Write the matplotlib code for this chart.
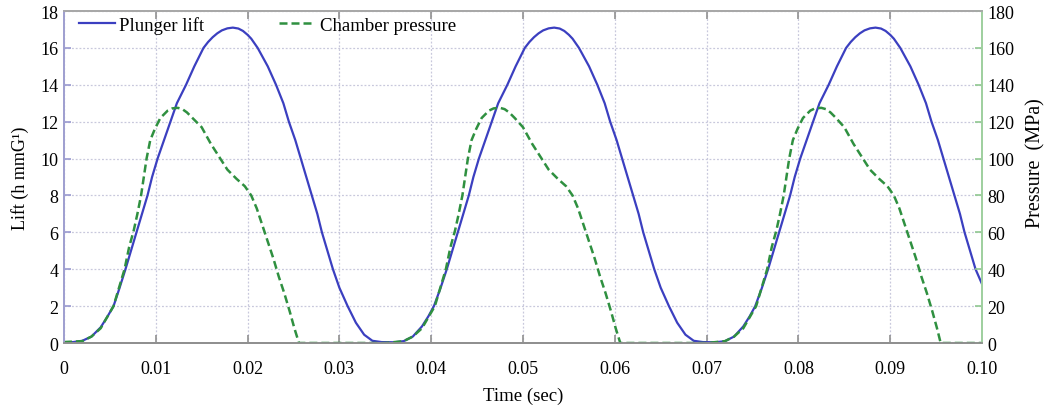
import matplotlib
matplotlib.use("Agg")
import matplotlib.pyplot as plt

plt.rcParams['font.family'] = ['Liberation Serif', 'DejaVu Serif']

# plunger lift (mm) against time (ms)
lift_t = [0.0, 1.0, 2.0, 3.0, 4.0, 4.7, 5.4, 6.0, 6.7, 7.3, 7.9, 8.5, 9.1, 9.6, 10.2,
          10.9, 11.6, 12.3, 13.3, 14.2, 15.2, 15.7, 16.2, 16.7, 17.2, 17.8, 18.4, 19.0,
          19.5, 20.0, 20.4, 21.1, 22.2, 23.1, 23.9, 24.5, 25.2, 25.8, 26.4, 27.0, 27.6,
          28.1, 28.7, 29.3, 30.0, 30.9, 31.8, 32.7, 33.6, 34.6, 36.0, 37.0,
          38.0, 39.0, 39.7, 40.3, 41.0, 41.7, 42.3, 42.9, 43.5, 44.1, 44.6, 45.2, 45.9,
          46.6, 47.3, 48.3, 49.2, 50.2, 50.7, 51.2, 51.7, 52.2, 52.8, 53.4, 54.0,
          54.5, 55.0, 55.4, 56.1, 57.2, 58.1, 58.9, 59.5, 60.2, 60.8, 61.4, 62.0, 62.6,
          63.1, 63.7, 64.3, 65.0, 65.9, 66.8, 67.7, 68.6, 69.6, 71.0, 72.0,
          73.0, 74.0, 74.7, 75.3, 76.0, 76.7, 77.3, 77.9, 78.5, 79.1, 79.6, 80.2, 80.9,
          81.6, 82.3, 83.3, 84.2, 85.2, 85.7, 86.2, 86.7, 87.2, 87.8, 88.4, 89.0,
          89.5, 90.0, 90.4, 91.1, 92.2, 93.1, 93.9, 94.5, 95.2, 95.8, 96.4, 97.0, 97.6,
          98.1, 98.7, 99.3, 100.0]
lift = [0.05, 0.05, 0.12, 0.35, 0.85, 1.4, 2.0, 2.9, 4.0, 5.0, 6.0, 7.0, 8.0, 9.0, 10.0,
        11.0, 12.0, 13.0, 14.0, 15.0, 16.0, 16.32, 16.58, 16.79, 16.95, 17.06, 17.1, 17.05,
        16.92, 16.71, 16.5, 16.0, 15.0, 14.0, 13.0, 12.0, 11.0, 10.0, 9.0, 8.0, 7.0,
        6.0, 5.0, 4.0, 3.0, 2.0, 1.1, 0.45, 0.12, 0.05, 0.04, 0.1,
        0.35, 0.9, 1.45, 2.0, 2.95, 4.0, 5.0, 6.0, 7.0, 8.0, 9.0, 10.0, 11.0,
        12.0, 13.0, 14.0, 15.0, 16.0, 16.32, 16.58, 16.79, 16.95, 17.06, 17.1, 17.05,
        16.92, 16.71, 16.5, 16.0, 15.0, 14.0, 13.0, 12.0, 11.0, 10.0, 9.0, 8.0, 7.0,
        6.0, 5.0, 4.0, 3.0, 2.0, 1.1, 0.45, 0.12, 0.05, 0.04, 0.1,
        0.35, 0.9, 1.45, 2.0, 2.95, 4.0, 5.0, 6.0, 7.0, 8.0, 9.0, 10.0, 11.0,
        12.0, 13.0, 14.0, 15.0, 16.0, 16.32, 16.58, 16.79, 16.95, 17.06, 17.1, 17.05,
        16.92, 16.71, 16.5, 16.0, 15.0, 14.0, 13.0, 12.0, 11.0, 10.0, 9.0, 8.0, 7.0,
        6.0, 5.0, 4.0, 3.2]

# chamber pressure (MPa) against time (ms)
pres_t = [0.0, 2.0, 3.0, 4.0, 4.7, 5.4, 6.0, 6.6, 7.1, 7.6, 8.0, 8.4, 8.7, 9.0, 9.4,
          9.9, 10.5, 11.3, 11.8, 12.4, 12.9, 13.4, 14.0, 15.0, 16.0, 16.9, 17.8, 18.8,
          19.7, 20.4, 21.0, 21.6, 22.2, 22.8, 23.4, 24.0, 24.6, 25.1, 25.6, 35.0,
          37.0, 38.0, 39.0, 39.7, 40.4, 41.0, 41.6, 42.1, 42.6, 43.0, 43.4, 43.7, 44.0,
          44.4, 44.9, 45.5, 46.3, 46.8, 47.5, 48.0, 48.5, 49.1, 50.0, 51.0, 51.9, 52.8,
          53.8, 54.7, 55.4, 56.0, 56.6, 57.2, 57.8, 58.4, 59.0, 59.6, 60.1, 60.6, 70.0,
          72.0, 73.0, 74.0, 74.7, 75.4, 76.0, 76.6, 77.1, 77.6, 78.0, 78.4, 78.7, 79.0,
          79.4, 79.9, 80.5, 81.3, 81.8, 82.5, 83.0, 83.5, 84.1, 85.0, 86.0, 86.9, 87.8,
          88.8, 89.7, 90.4, 91.0, 91.6, 92.2, 92.8, 93.4, 94.0, 94.6, 95.1, 95.5, 100.0]
pressure = [0.5, 1.0, 3.5, 8.0, 14.0, 20.0, 30.0, 40.0, 52.0, 61.0, 70.0, 80.0, 90.0,
            100.0, 110.0, 116.0, 122.0, 126.0, 127.2, 127.5, 126.8, 125.0, 122.0, 117.0,
            108.0, 101.0, 94.0, 89.0, 85.0, 80.0, 73.0, 64.0, 55.0, 46.0, 36.0, 27.0,
            17.0, 8.0, 0.0, 0.0,
            1.0, 3.5, 8.0, 14.0, 20.0, 30.0, 40.0, 52.0, 61.0, 70.0, 80.0, 90.0,
            100.0, 110.0, 116.0, 122.0, 126.0, 127.2, 127.5, 126.8, 125.0, 122.0, 117.0,
            108.0, 101.0, 94.0, 89.0, 85.0, 80.0, 73.0, 64.0, 55.0, 46.0, 36.0, 27.0,
            17.0, 8.0, 0.0, 0.0,
            1.0, 3.5, 8.0, 14.0, 20.0, 30.0, 40.0, 52.0, 61.0, 70.0, 80.0, 90.0,
            100.0, 110.0, 116.0, 122.0, 126.0, 127.2, 127.5, 126.8, 125.0, 122.0, 117.0,
            108.0, 101.0, 94.0, 89.0, 85.0, 80.0, 73.0, 64.0, 55.0, 46.0, 36.0, 27.0,
            17.0, 8.0, 0.0, 0.0]

x_ticks = [0, 0.01, 0.02, 0.03, 0.04, 0.05, 0.06, 0.07, 0.08, 0.09, 0.10]
x_labels = ['0', '0.01', '0.02', '0.03', '0.04', '0.05', '0.06', '0.07', '0.08', '0.09', '0.10']
lift_ticks = list(range(0, 19, 2))
pres_ticks = list(range(0, 181, 20))

blue = '#3b3fc0'
green = '#2f9040'

fig = plt.figure(figsize=(10.45, 4.06), dpi=100)
ax = fig.add_axes([0.0612, 0.1527, 0.8785, 0.8177])
ax2 = ax.twinx()

l1, = ax.plot([t / 1000 for t in lift_t], lift, color=blue, lw=1.6, label='Plunger lift')
l2, = ax2.plot([t / 1000 for t in pres_t], pressure, color=green, lw=1.8,
               ls=(0, (3.2, 1.6)), label='Chamber pressure')

ax.set_xlim(0, 0.1)
ax.set_ylim(0, 18)
ax2.set_ylim(0, 180)
ax.set_xticks(x_ticks)
ax.set_xticklabels(x_labels)
ax.set_yticks(lift_ticks)
ax2.set_yticks(pres_ticks)

ax.grid(True, color='#c8c8dc', ls=(0, (1.5, 1.5)), lw=0.9)
ax.tick_params(axis='x', direction='in', length=6, width=1.2, color='#909090',
               top=True, labelsize=13, pad=12)
ax.tick_params(axis='y', direction='in', length=5, width=1.2, color='#9a9ad0',
               labelsize=13, pad=4)
ax2.tick_params(axis='y', direction='in', length=5, width=1.2, color='#90c890',
                labelsize=13, pad=4)

for a in (ax, ax2):
    a.spines['top'].set_color('#a8a8a8')
    a.spines['bottom'].set_color('#909090')
    a.spines['left'].set_color('#a0a0d0')
    a.spines['right'].set_color('#a0d0a0')
    for s in a.spines.values():
        s.set_linewidth(1.3)

ax.set_xlabel('Time (sec)', fontsize=13.5, labelpad=7)
ax.set_ylabel('Lift (h mmG¹)', fontsize=13, labelpad=8)
ax2.set_ylabel('Pressure  (MPa)', fontsize=14.5)
ax2.yaxis.set_label_coords(1.048, 0.545)

ax.legend(handles=[l1, l2], loc='upper left', bbox_to_anchor=(0.004, 1.02), ncol=2,
          frameon=False, fontsize=13.5, handlelength=1.9, columnspacing=4.0,
          handletextpad=0.25, borderaxespad=0.2)

fig.savefig('out.png', dpi=100)
